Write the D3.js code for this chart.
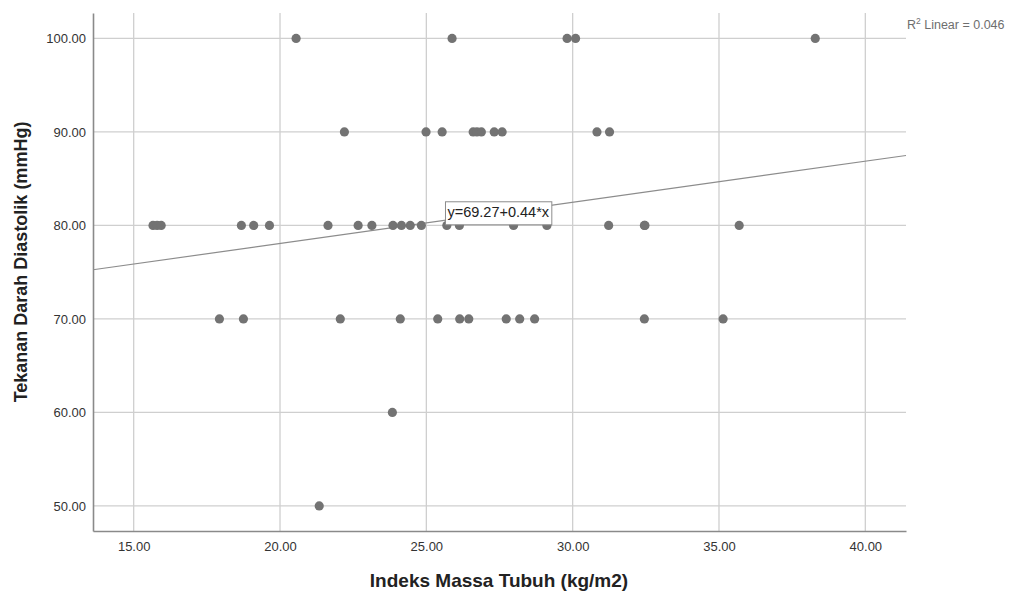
<!DOCTYPE html>
<html>
<head>
<meta charset="utf-8">
<script src="https://cdn.jsdelivr.net/npm/d3@7"></script>
<style>
  body { margin: 0; background: #fff; }
  svg { font-family: "Liberation Sans", Arial, sans-serif; }
</style>
</head>
<body>
<svg id="chart" width="1013" height="593"></svg>
<script>
// values (BMI vs diastolic pressure)
const bmi = [
  20.55, 25.88, 29.81, 30.10, 38.29,
  22.20, 24.99, 25.54, 26.60, 26.73, 26.88, 27.32, 27.59, 30.83, 31.26,
  15.66, 15.80, 15.94, 18.68, 19.10, 19.64, 21.64, 22.67, 23.14, 23.86, 24.15, 24.45, 24.83,
  25.70, 26.13, 27.98, 29.12, 31.23, 32.45, 32.47, 35.69,
  17.93, 18.75, 22.06, 24.11, 25.39, 26.14, 26.45, 27.73, 28.19, 28.70, 32.45, 35.14,
  23.84, 21.34
]
const diastolic = [
  100, 100, 100, 100, 100,
  90, 90, 90, 90, 90, 90, 90, 90, 90, 90,
  80, 80, 80, 80, 80, 80, 80, 80, 80, 80, 80, 80, 80,
  80, 80, 80, 80, 80, 80, 80, 80,
  70, 70, 70, 70, 70, 70, 70, 70, 70, 70, 70, 70,
  60, 50
]
const xTicks = [15, 20, 25, 30, 35, 40]
const yTicks = [50, 60, 70, 80, 90, 100]
const fit = { intercept: 69.27, slope: 0.44 }
const fitLabel = "y=69.27+0.44*x"
const r2Text = "0.046"

const MARGIN = { left: 93, top: 13, right: 906, bottom: 531 }

const svg = d3.select("#chart")
const x = d3.scaleLinear().domain([13.61, 41.39]).range([MARGIN.left, MARGIN.right])
const y = d3.scaleLinear().domain([47.32, 102.72]).range([MARGIN.bottom, MARGIN.top])

// grid
svg.append("g").attr("class", "grid")
  .selectAll("line").data(xTicks).join("line")
  .attr("x1", d => x(d)).attr("x2", d => x(d))
  .attr("y1", MARGIN.top).attr("y2", MARGIN.bottom)
  .attr("stroke", "#cfcfcf").attr("stroke-width", 1.3)
svg.append("g").attr("class", "grid")
  .selectAll("line").data(yTicks).join("line")
  .attr("x1", MARGIN.left).attr("x2", MARGIN.right)
  .attr("y1", d => y(d)).attr("y2", d => y(d))
  .attr("stroke", "#cfcfcf").attr("stroke-width", 1.3)

// axes
const xAxis = svg.append("g")
  .attr("transform", `translate(0, ${MARGIN.bottom})`)
  .call(d3.axisBottom(x).tickValues(xTicks).tickSize(0).tickPadding(11).tickFormat(d3.format(".2f")))
const yAxis = svg.append("g")
  .attr("transform", `translate(${MARGIN.left}, 0)`)
  .call(d3.axisLeft(y).tickValues(yTicks).tickSize(0).tickPadding(7).tickFormat(d3.format(".2f")))
;[xAxis, yAxis].forEach(a => {
  a.select(".domain").attr("stroke", "#8a8a8a").attr("stroke-width", 1.6)
  a.selectAll("text").attr("font-size", 13).attr("fill", "#333").attr("font-family", "Liberation Sans, Arial, sans-serif")
})

// fit line
const fx = x.domain()
svg.append("line")
  .attr("x1", x(fx[0])).attr("y1", y(fit.intercept + fit.slope * fx[0]))
  .attr("x2", x(fx[1])).attr("y2", y(fit.intercept + fit.slope * fx[1]))
  .attr("stroke", "#8c8c8c").attr("stroke-width", 1.2)

// points
svg.append("g").selectAll("circle").data(bmi).join("circle")
  .attr("cx", d => x(d)).attr("cy", (d, i) => y(diastolic[i]))
  .attr("r", 4.6).attr("fill", "#737373")

// fit label box
const lab = svg.append("g").attr("transform", `translate(${x(25.62)}, ${y(81.3)})`)
const labText = lab.append("text").attr("x", 3).attr("y", 0)
  .attr("font-size", 14.5).attr("fill", "#222").attr("dominant-baseline", "middle")
  .text(fitLabel)
const bb = labText.node().getBBox()
lab.insert("rect", "text")
  .attr("x", bb.x - 2).attr("y", -11.5).attr("width", bb.width + 4).attr("height", 23)
  .attr("fill", "#fff").attr("stroke", "#8c8c8c").attr("stroke-width", 1)

// R2 note
const r2 = svg.append("text").attr("x", 907).attr("y", 29).attr("font-size", 12.5).attr("fill", "#6e6e6e")
r2.append("tspan").text("R")
r2.append("tspan").attr("font-size", 8.5).attr("dy", -5).text("2")
r2.append("tspan").attr("dy", 5).text(" Linear = " + r2Text)

// axis titles
svg.append("text")
  .attr("x", 499).attr("y", 587)
  .attr("text-anchor", "middle").attr("font-size", 19).attr("font-weight", "bold").attr("fill", "#222")
  .text("Indeks Massa Tubuh (kg/m2)")
svg.append("text")
  .attr("transform", `translate(27, 262) rotate(-90)`)
  .attr("text-anchor", "middle").attr("font-size", 18).attr("font-weight", "bold").attr("fill", "#222")
  .text("Tekanan Darah Diastolik (mmHg)")
</script>
</body>
</html>
